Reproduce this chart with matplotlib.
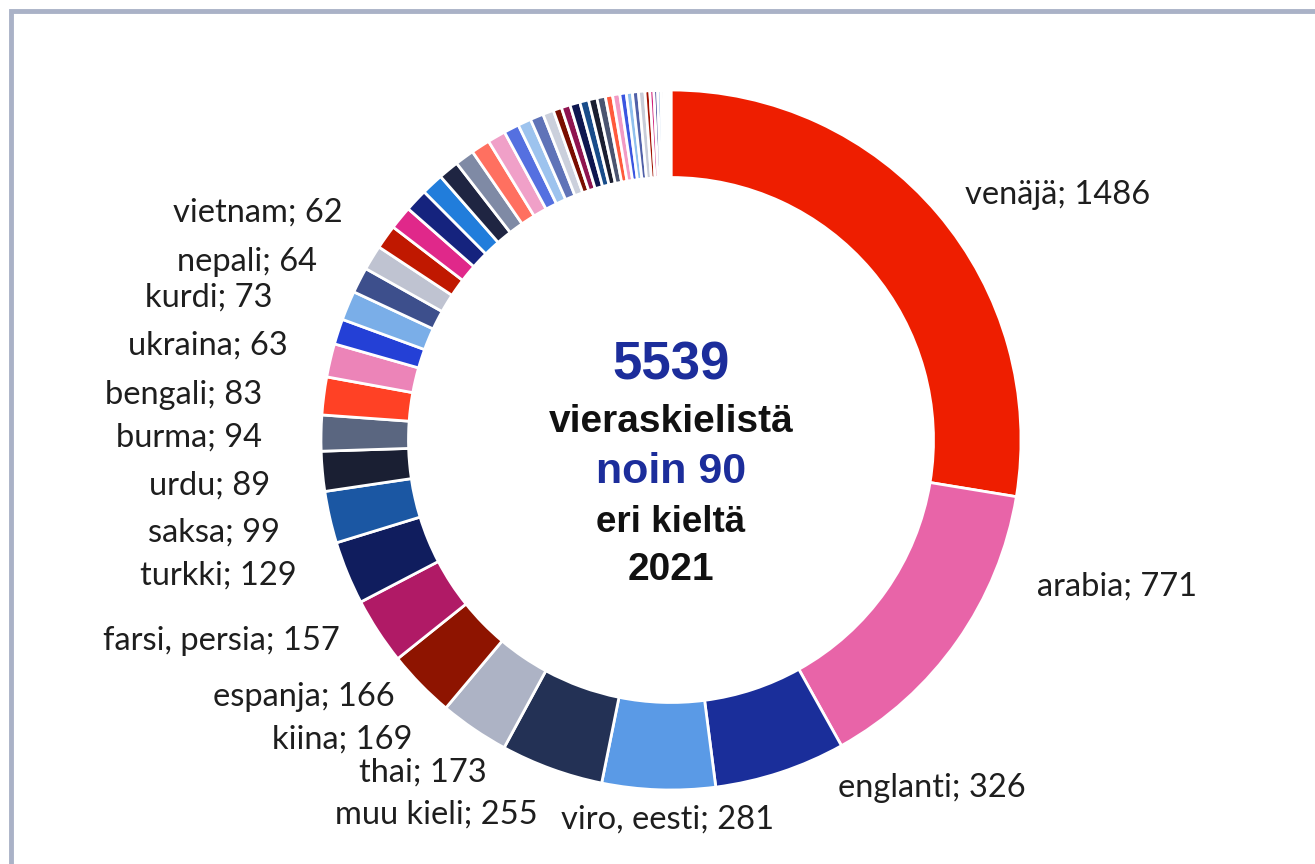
import matplotlib
matplotlib.use("Agg")
import matplotlib.pyplot as plt
from matplotlib.patches import Rectangle

# languages with a label, in drawing order (clockwise from top)
names = ["venäjä", "arabia", "englanti", "viro, eesti", "muu kieli", "thai",
         "kiina", "espanja", "farsi, persia", "turkki", "saksa", "urdu",
         "burma", "bengali", "ukraina", "kurdi", "nepali", "vietnam"]
counts = [1486, 771, 326, 281, 255, 173, 169, 166, 157, 129, 99, 89,
          94, 83, 63, 73, 64, 62]
# small languages without a label (read off the ring)
small_counts = [60, 58, 57, 55, 51, 48, 47, 45, 38, 33, 33, 27, 21, 22,
                25, 22, 21, 21, 18, 18, 16, 15, 15, 16, 12, 10, 9,
                8, 7, 6, 5, 4, 3]
total_text = "5539"
center_lines = ["vieraskielistä", "noin 90", "eri kieltä", "2021"]

colors = ["#ee1e00", "#e864a8", "#1a2e9a", "#5a9ae6", "#233155", "#adb3c5",
          "#8e1400", "#b01a66", "#101d5e", "#1b57a3", "#1a1f33", "#5a6680",
          "#ff4125", "#ec84b8", "#2440d6", "#7aaee8", "#3d4f8c", "#bfc3d1",
          "#c01800", "#e0288a", "#15237e", "#217ddb", "#1f2542", "#7f8aa5",
          "#ff7060", "#f0a0c8", "#5570e0", "#9dc3ee", "#5f73b8", "#cbd0dc",
          "#7a0e00", "#8f1450", "#0e1650", "#184c8a", "#1a1e30", "#4a5470",
          "#ff5a3c", "#f29ac4", "#3a55e0", "#90c0ee", "#5060a8", "#c8ccd8",
          "#a01000", "#d0207a", "#202080", "#4080d0", "#30385a", "#9098b0",
          "#ff8070", "#f5b0d0", "#7088e8"]

values = counts + small_counts

W, H = 1315, 864
cx, cy, R = 671, 440, 350  # pie centre and radius in pixels

fig = plt.figure(figsize=(W / 100, H / 100), dpi=100)
ax = fig.add_axes([0, 0, 1, 1])

ax.pie(values, colors=colors[:len(values)], startangle=90, counterclock=False,
       radius=1, wedgeprops=dict(width=0.25, edgecolor="white", linewidth=2))

# pie() resets the limits, so map data units to pixels afterwards
ax.set_aspect("auto")
ax.set_xlim(-cx / R, (W - cx) / R)
ax.set_ylim(-(H - cy) / R, cy / R)
ax.axis("off")

# label anchors in pixels (x, y, alignment)
label_pos = [(965, 195, "left"), (1037, 587, "left"), (838, 788, "left"),
             (668, 820, "center"), (538, 815, "right"), (487, 773, "right"),
             (412, 740, "right"), (395, 697, "right"), (340, 641, "right"),
             (297, 576, "right"), (280, 533, "right"), (270, 486, "right"),
             (262, 438, "right"), (262, 395, "right"), (288, 346, "right"),
             (272, 298, "right"), (317, 262, "right"), (343, 213, "right")]

for name, val, (px, py, ha) in zip(names, counts, label_pos):
    ax.text((px - cx) / R, (cy - py) / R, f"{name}; {val}", ha=ha, va="center",
            fontsize=23.5, family="Lato", color="#1e1e1e")

blue = "#1c2d9b"
ax.text(0, (cy - 365) / R, total_text, ha="center", va="center",
        fontsize=38, fontweight="bold", family="Liberation Sans", color=blue)
line_y = [422, 472, 523, 570]
line_c = ["#111111", blue, "#111111", "#111111"]
line_s = [28, 31, 26.5, 28]
for txt, py, c, s in zip(center_lines, line_y, line_c, line_s):
    ax.text(0, (cy - py) / R, txt, ha="center", va="center", fontsize=s,
            fontweight="bold", family="Liberation Sans", color=c)

# frame around the chart (cut off at right and bottom)
fig.patches.append(Rectangle((11 / W, -0.1), 1.2, 1.1 - 12 / H + 0.001,
                             transform=fig.transFigure, fill=False,
                             edgecolor="#aab2c7", linewidth=3.5))

fig.savefig("out.png", dpi=100)
